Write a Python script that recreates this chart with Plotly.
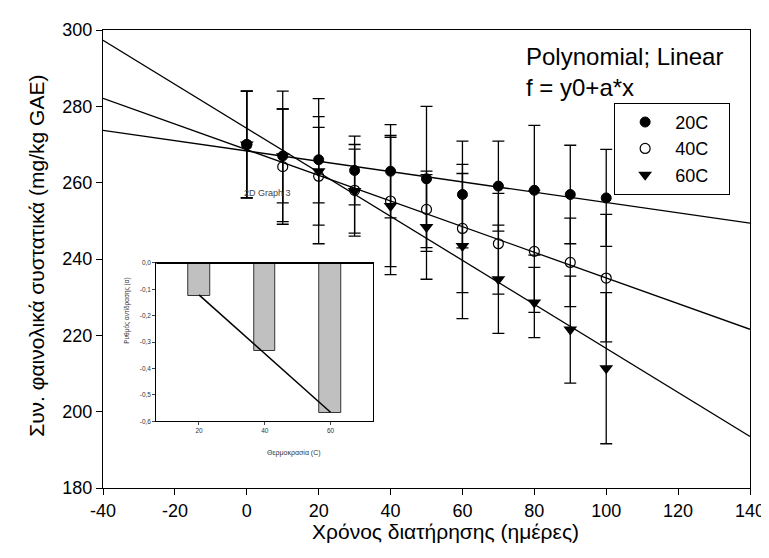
import numpy as np
import plotly.graph_objects as go

# ---- data ----
days = [0, 10, 20, 30, 40, 50, 60, 70, 80, 90, 100]
series_names = ["20C", "40C", "60C"]
y_20C = [270, 267, 266, 263.2, 263, 261, 256.9, 259.1, 258, 256.9, 256]
y_40C = [270, 264.2, 261.7, 258, 255.2, 253, 248, 244, 242, 239.1, 235]
y_60C = [270, 266.9, 263, 257.8, 253.9, 248.4, 243.4, 234.7, 228.6, 221.5, 211.4]
err_20C = [14, 12.3, 11.3, 9, 12.2, 19, 14, 11.8, 17, 12.9, 12.7]
err_40C = [14, 15.1, 12.8, 12, 17.2, 10, 16.8, 13.2, 16, 11.6, 16.7]
err_60C = [14, 17.1, 19, 11, 18, 13.7, 19, 14.2, 9.2, 14, 19.8]

# inset: reaction rate (slope a) vs temperature
inset_temps = [20, 40, 60]
inset_rates = [-0.125, -0.335, -0.57]
inset_yticks = [0.0, -0.1, -0.2, -0.3, -0.4, -0.5, -0.6]
inset_yticktext = ["0,0", "-0,1", "-0,2", "-0,3", "-0,4", "-0,5", "-0,6"]

x_ticks = [-40, -20, 0, 20, 40, 60, 80, 100, 120, 140]
x_ticktext = ["-40", "-20", "0", "20", "40", "60", "80", "100", "120", "140"]
y_ticks = [180, 200, 220, 240, 260, 280, 300]

FONT = "Liberation Sans, Arial, sans-serif"
fig = go.Figure()

# regression lines over full axis range
xr = np.array([-40, 140])
for ys in (y_20C, y_40C, y_60C):
    b, a0 = np.polyfit(days, ys, 1)
    fig.add_trace(go.Scatter(x=xr, y=a0 + b * xr, mode="lines",
                             line=dict(color="black", width=1.3),
                             showlegend=False, hoverinfo="skip"))

markers = [
    dict(symbol="circle", size=10, color="black", line=dict(color="black", width=1)),
    dict(symbol="circle-open", size=10, color="black", line=dict(color="black", width=1.2)),
    dict(symbol="triangle-down", size=12, color="black", line=dict(color="black", width=0)),
]
pad = "\u00a0\u00a0\u00a0"
for name, ys, es, mk in zip(series_names, (y_20C, y_40C, y_60C),
                            (err_20C, err_40C, err_60C), markers):
    fig.add_trace(go.Scatter(
        x=days, y=ys, mode="markers", name=name + pad, marker=mk,
        error_y=dict(type="data", array=es, color="black", thickness=1.3, width=6),
    ))

# inset
fig.add_trace(go.Bar(x=inset_temps, y=inset_rates, width=6.6,
                     marker=dict(color="#c0c0c0", line=dict(color="#333333", width=1)),
                     xaxis="x2", yaxis="y2", showlegend=False))
s, c = np.polyfit(inset_temps, inset_rates, 1)
xi = np.array([inset_temps[0], inset_temps[-1]])
fig.add_trace(go.Scatter(x=xi, y=c + s * xi, mode="lines",
                         line=dict(color="black", width=1.5),
                         xaxis="x2", yaxis="y2", showlegend=False))

axis_common = dict(showgrid=False, zeroline=False, ticks="outside", ticklen=6,
                   tickcolor="black", linecolor="black", linewidth=1.3, mirror=True,
                   tickfont=dict(family=FONT, size=18, color="black"))

fig.update_layout(
    width=769, height=558,
    margin=dict(l=95, r=18, t=20, b=78),
    paper_bgcolor="white", plot_bgcolor="white",
    font=dict(family=FONT, color="black"),
    xaxis=dict(range=[-40, 140], tickvals=x_ticks, ticktext=x_ticktext, **axis_common),
    yaxis=dict(range=[180, 300], tickvals=y_ticks, **axis_common),
    xaxis2=dict(domain=[0.0823, 0.4177], anchor="y2", range=[7, 73],
                tickvals=inset_temps, ticks="outside", ticklen=3, showgrid=False,
                zeroline=False, linecolor="black", linewidth=1, mirror=True,
                tickfont=dict(family=FONT, size=6.5, color="#333")),
    yaxis2=dict(domain=[0.1457, 0.4913], anchor="x2", range=[-0.6, 0],
                tickvals=inset_yticks, ticktext=inset_yticktext, ticks="outside",
                ticklen=3, showgrid=False, zeroline=False, linecolor="black",
                linewidth=1, mirror=True,
                tickfont=dict(family=FONT, size=6.5, color="#333")),
    legend=dict(x=0.79, y=0.841, xanchor="left", yanchor="top",
                bgcolor="white", bordercolor="black", borderwidth=1,
                font=dict(family=FONT, size=18, color="black"),
                itemwidth=50),
    bargap=0,
)

fig.add_shape(type="line", xref="x2", yref="y2", x0=7, x1=73, y0=0, y1=0,
              line=dict(color="black", width=2))

annotations = [
    dict(text="Συν. φαινολικά συστατικά (mg/kg GAE)", xref="paper", yref="paper",
         x=-0.1235, y=0.506, textangle=-90, showarrow=False,
         font=dict(family=FONT, size=21, color="black")),
    dict(text="Χρόνος διατήρησης (ημέρες)", xref="paper", yref="paper",
         x=0.53, y=-0.124, showarrow=False,
         font=dict(family=FONT, size=21, color="black")),
    dict(text="Polynomial; Linear<br>f = y0+a*x", xref="paper", yref="paper",
         x=0.65, y=0.975, xanchor="left", yanchor="top", align="left",
         showarrow=False, font=dict(family=FONT, size=24, color="black")),
    dict(text="2D Graph 3", xref="paper", yref="paper", x=0.215, y=0.6435,
         xanchor="left", yanchor="middle", showarrow=False,
         font=dict(family=FONT, size=9, color="#444")),
    dict(text="Ρυθμός αντίδρασης (α)", xref="paper", yref="paper",
         x=(113 - 95) / 656, y=(480 - 337) / 460, textangle=-90, showarrow=False,
         font=dict(family=FONT, size=6.5, color="#333")),
    dict(text="Θερμοκρασία (C)", xref="paper", yref="paper",
         x=(259 - 95) / 656, y=(480 - 451) / 460, showarrow=False,
         font=dict(family=FONT, size=7, color="#333")),
]
fig.update_layout(annotations=annotations)

fig.write_html("out.html")
